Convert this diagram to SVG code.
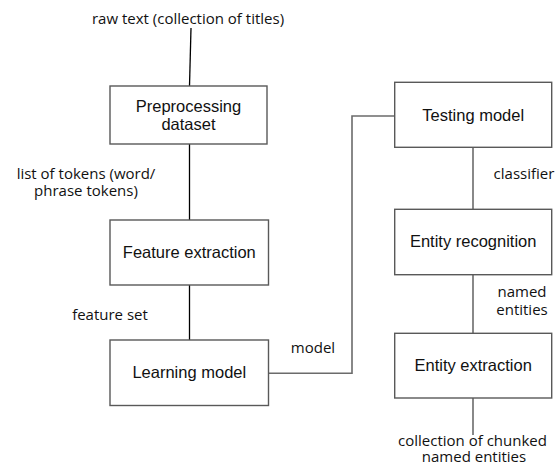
<svg xmlns="http://www.w3.org/2000/svg" width="555" height="466" viewBox="0 0 555 466">
<style>
.box{fill:#fff;stroke:#595959;stroke-width:1.4}
.bt{font-family:"Liberation Sans",Arial,sans-serif;font-size:16.5px;fill:#111;text-anchor:middle}
.lb{font-family:"Open Sans","Liberation Sans",sans-serif;font-size:15px;fill:#111}
.ck{fill:none;stroke:#000;stroke-width:1.3}
.cg{fill:none;stroke:#6b6b6b;stroke-width:1.6}
</style>
<rect width="555" height="466" fill="#fff"/>
<g id="connectors">
<path class="ck" d="M191 28 L189.5 86"/>
<path class="ck" d="M189.5 144 V220"/>
<path class="ck" d="M189.5 285 V340"/>
<path class="cg" d="M268.5 373.3 H352 V116 H394.7"/>
<path class="cg" d="M473 147.3 V209.3"/>
<path class="cg" d="M473 274.7 V333.3"/>
<path class="cg" d="M473 398 V435"/>
</g>
<g id="labels">
<text class="lb" x="188" y="24" text-anchor="middle">raw text (collection of titles)</text>
<text class="lb" x="86" y="179" text-anchor="middle">list of tokens (word/</text>
<text class="lb" x="86" y="196" text-anchor="middle">phrase tokens)</text>
<text class="lb" x="110" y="320" text-anchor="middle">feature set</text>
<text class="lb" x="313" y="353" text-anchor="middle">model</text>
<text class="lb" x="524" y="179" text-anchor="middle">classifier</text>
<text class="lb" x="522" y="297" text-anchor="middle">named</text>
<text class="lb" x="522" y="315" text-anchor="middle">entities</text>
<text class="lb" x="472.5" y="446" text-anchor="middle">collection of chunked</text>
<text class="lb" x="474" y="462" text-anchor="middle">named entities</text>
</g>
<g id="preprocessing">
<rect class="box" x="110" y="86" width="157" height="58"/>
<text class="bt" x="188.5" y="112">Preprocessing</text>
<text class="bt" x="188.5" y="129.5">dataset</text>
</g>
<g id="feature-extraction">
<rect class="box" x="110" y="220" width="158.5" height="65"/>
<text class="bt" x="189.3" y="258">Feature extraction</text>
</g>
<g id="learning-model">
<rect class="box" x="110" y="340" width="158.5" height="65.5"/>
<text class="bt" x="189.3" y="378">Learning model</text>
</g>
<g id="testing-model">
<rect class="box" x="394.7" y="82.3" width="157" height="65"/>
<text class="bt" x="473.2" y="120.5">Testing model</text>
</g>
<g id="entity-recognition">
<rect class="box" x="394.7" y="209.3" width="157" height="65.4"/>
<text class="bt" x="473.2" y="247">Entity recognition</text>
</g>
<g id="entity-extraction">
<rect class="box" x="394.7" y="333.3" width="157" height="64.7"/>
<text class="bt" x="473.2" y="371">Entity extraction</text>
</g>
</svg>
